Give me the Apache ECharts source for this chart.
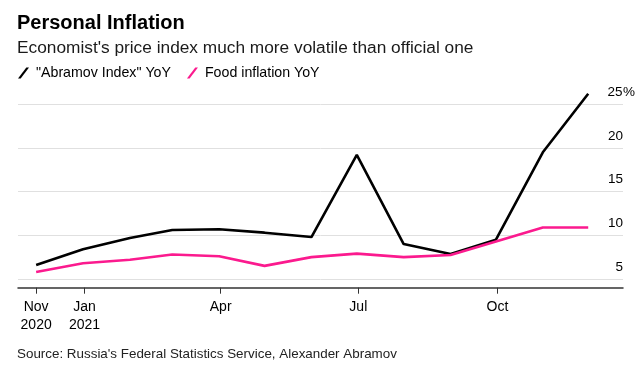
<!DOCTYPE html>
<html>
<head>
<meta charset="utf-8">
<script src="https://cdn.jsdelivr.net/npm/echarts@6/dist/echarts.min.js"></script>
<style>
html,body{margin:0;padding:0;background:#fff;}
#chart{width:642px;height:376px;}
</style>
</head>
<body>
<div id="chart"></div>
<script>
// Month-end observation dates (Nov 2020 .. Nov 2021)
var dates = ['2020-11-30','2020-12-31','2021-01-31','2021-02-28','2021-03-31','2021-04-30','2021-05-31','2021-06-30','2021-07-31','2021-08-31','2021-09-30','2021-10-31','2021-11-30'];
var abramovYoY = [6.6, 8.4, 9.7, 10.6, 10.7, 10.3, 9.8, 19.2, 9.0, 7.85, 9.5, 19.5, 26.2];
var foodYoY    = [5.8, 6.8, 7.2, 7.8, 7.6, 6.5, 7.5, 7.9, 7.5, 7.75, 9.3, 10.9, 10.9];
var seriesNames = ['"Abramov Index" YoY', 'Food inflation YoY'];
var xTickDates = ['2020-11-30','2021-01-01','2021-04-01','2021-07-01','2021-10-01'];
var xTickLabels = ['Nov\n2020','Jan\n2021','Apr','Jul','Oct'];
var yTickValues = [5, 10, 15, 20, 25];
var xRange = ['2020-11-18', '2021-12-23'];
var yRange = [4, 27];

// dates -> day number (UTC days since epoch), used as a linear value axis
function dn(s){ var p = s.split('-'); return Date.UTC(+p[0], +p[1]-1, +p[2]) / 86400000; }
var FONT = '"Liberation Sans", Arial, Helvetica, sans-serif';

var chart = echarts.init(document.getElementById('chart'), null, {renderer:'canvas'});
var xTicks = xTickDates.map(dn);

chart.setOption({
  animation: false,
  backgroundColor: '#fff',
  textStyle: {fontFamily: FONT},
  title: [
    {text: 'Personal Inflation', left: 17, top: 13, padding: 0,
     textStyle: {fontFamily: FONT, fontSize: 20, fontWeight: 'bold', color: '#000'}},
    {text: "Economist's price index much more volatile than official one", left: 17, top: 39.3, padding: 0,
     textStyle: {fontFamily: FONT, fontSize: 17.3, fontWeight: 'normal', color: '#1a1a1a'}},
    {text: "Source: Russia's Federal Statistics Service, Alexander Abramov", left: 17, top: 347.5, padding: 0,
     textStyle: {fontFamily: FONT, fontSize: 13.4, fontWeight: 'normal', color: '#222'}}
  ],
  legend: {
    left: 18, top: 66, padding: 0, itemGap: 16,
    itemWidth: 11, itemHeight: 11,
    icon: 'path://M0,11 L8.3,0 L11,0 L2.7,11 Z',
    data: seriesNames,
    textStyle: {fontFamily: FONT, fontSize: 14.2, color: '#000', padding: [0,0,0,2]}
  },
  grid: {left: 18, right: 19, top: 86.8, bottom: 88.3},
  xAxis: {
    type: 'value',
    min: dn(xRange[0]), max: dn(xRange[1]),
    axisLine: {show: true, onZero: false, lineStyle: {color: '#333', width: 1.5}},
    axisTick: {show: true, length: 6, customValues: xTicks, lineStyle: {color: '#333', width: 1}},
    axisLabel: {
      customValues: xTicks, margin: 10, fontSize: 14, lineHeight: 18, color: '#000', fontFamily: FONT,
      formatter: function(v){ var i = xTicks.indexOf(v); return i >= 0 ? xTickLabels[i] : ''; }
    },
    splitLine: {show: false}
  },
  yAxis: {
    type: 'value', position: 'right',
    min: yRange[0], max: yRange[1],
    axisLine: {show: false},
    axisTick: {show: false, customValues: yTickValues},
    splitLine: {show: true, lineStyle: {color: '#e0e0e0', width: 1}},
    axisLabel: {
      customValues: yTickValues, margin: -16, align: 'left', verticalAlign: 'bottom',
      padding: [0,0,5,0], fontSize: 13.5, lineHeight: 14, color: '#000', fontFamily: FONT,
      formatter: function(v){ return '{v|' + v + '}' + (v === yTickValues[yTickValues.length-1] ? '{p|%}' : ''); },
      rich: {
        v: {width: 16, align: 'right', fontSize: 13.5, lineHeight: 14, color: '#000', fontFamily: FONT},
        p: {fontSize: 13.5, lineHeight: 14, color: '#000', fontFamily: FONT}
      }
    }
  },
  series: [
    {name: seriesNames[0], type: 'line', showSymbol: false, symbol: 'none',
     color: '#000', lineStyle: {color: '#000', width: 2.6},
     data: dates.map(function(d,i){ return [dn(d), abramovYoY[i]]; })},
    {name: seriesNames[1], type: 'line', showSymbol: false, symbol: 'none',
     color: '#fb1a8e', lineStyle: {color: '#fb1a8e', width: 2.6},
     data: dates.map(function(d,i){ return [dn(d), foodYoY[i]]; })}
  ]
});
</script>
</body>
</html>
